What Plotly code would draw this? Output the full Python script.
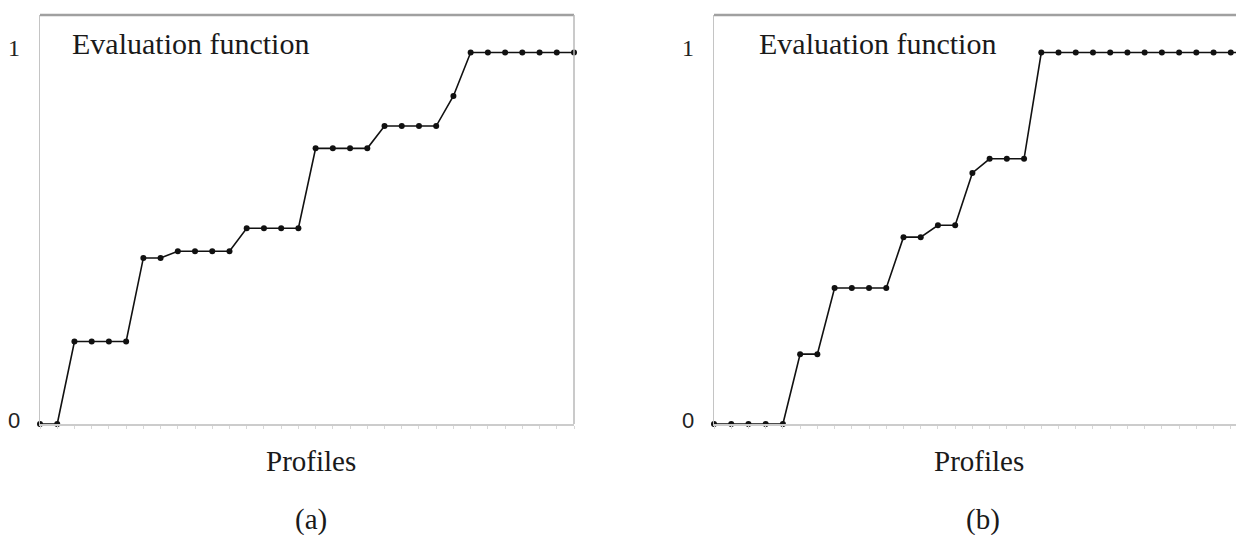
import plotly.graph_objects as go

# ---------------- data ----------------
profiles_a = list(range(32))
eval_a = [0, 0, 0.222, 0.222, 0.222, 0.222, 0.447, 0.447, 0.465, 0.465, 0.465, 0.465,
          0.527, 0.527, 0.527, 0.527, 0.742, 0.742, 0.742, 0.742, 0.802, 0.802, 0.802, 0.802,
          0.883, 1, 1, 1, 1, 1, 1, 1]
profiles_b = list(range(32))
eval_b = [0, 0, 0, 0, 0, 0.188, 0.188, 0.366, 0.366, 0.366, 0.366, 0.503, 0.503,
          0.535, 0.535, 0.676, 0.714, 0.714, 0.714, 1, 1, 1, 1, 1, 1, 1, 1, 1, 1, 1, 1, 1]
y_tickvals = [0, 1]
y_ticktext = ["0", "1"]
y_tickfonts = ["Liberation Sans, Arial, sans-serif", "Liberation Serif, Times New Roman, serif"]
y_ticksizes = [22, 24]
panel_labels = ["(a)", "(b)"]
x_title = "Profiles"
inner_title = "Evaluation function"

# the page has an 8px body margin: figure fills the window from (8, 8)
OFF = 8
W, H = 1244 - OFF, 535 - OFF
SERIF = "Liberation Serif, Times New Roman, serif"


def px(X):
    return (X - OFF) / W


def py(Y):
    return 1 - (Y - OFF) / H


fig = go.Figure()
for i, (xs, ys) in enumerate([(profiles_a, eval_a), (profiles_b, eval_b)]):
    suffix = "" if i == 0 else str(i + 1)
    fig.add_trace(go.Scatter(
        x=xs, y=ys, mode="lines+markers",
        line=dict(color="#111111", width=1.6),
        marker=dict(color="#111111", size=6),
        cliponaxis=False, showlegend=False,
        xaxis="x" + suffix, yaxis="y" + suffix,
    ))

ydom = [py(424), py(15)]
yr = [0, 1.101]
xdom_a = [px(40), px(574)]
xdom_b = [px(714), 1.0]
step = 534 / 31
xr_a = [0, 31]
xr_b = [0, (1244 - 714) / step]

common_x = dict(showgrid=False, zeroline=False, showline=True, linecolor="#cccccc",
                linewidth=1.5, ticks="outside", ticklen=3, tickcolor="#d8d8d8",
                tickmode="linear", tick0=0, dtick=1, showticklabels=False, fixedrange=True)
common_y = dict(showgrid=False, zeroline=False, showline=True, linecolor="#c4c4c4",
                linewidth=1, ticks="", tickvals=y_tickvals, showticklabels=False,
                domain=ydom, range=yr, fixedrange=True)

fig.update_layout(
    width=W, height=H,
    margin=dict(l=0, r=0, t=0, b=0),
    paper_bgcolor="white", plot_bgcolor="white",
    xaxis=dict(domain=xdom_a, range=xr_a, anchor="y", **common_x),
    yaxis=dict(anchor="x", **common_y),
    xaxis2=dict(domain=xdom_b, range=xr_b, anchor="y2", **common_x),
    yaxis2=dict(anchor="x2", **common_y),
)

# frame borders (top, and right for panel a)
for xr_ref, yr_ref, right in [("x domain", "y domain", True), ("x2 domain", "y2 domain", False)]:
    fig.add_shape(type="line", xref=xr_ref, yref=yr_ref, x0=0, x1=1, y0=1, y1=1,
                  line=dict(color="#a0a0a0", width=2.5))
    if right:
        fig.add_shape(type="line", xref=xr_ref, yref=yr_ref, x0=1, x1=1, y0=0, y1=1,
                      line=dict(color="#b8b8b8", width=1.5))

# y tick labels (0 and 1), placed on each panel's y axis
for xd, yref in [("x domain", "y"), ("x2 domain", "y2")]:
    for v, t, f, sz in zip(y_tickvals, y_ticktext, y_tickfonts, y_ticksizes):
        fig.add_annotation(x=0, y=v, xref=xd, yref=yref, text=t, showarrow=False,
                           xanchor="right", yanchor="middle", xshift=-18,
                           yshift=5 if v == 1 else 4,
                           font=dict(family=f, size=sz, color="#222222"))

# texts
for i, lbl in enumerate(panel_labels):
    left_px = 70 if i == 0 else 757
    fig.add_annotation(x=px(left_px), y=py(43), xref="paper", yref="paper",
                       text=inner_title, showarrow=False, xanchor="left", yanchor="middle",
                       font=dict(family=SERIF, size=30, color="#1a1a1a"))
    cx = 311 if i == 0 else 979
    fig.add_annotation(x=px(cx), y=py(461), xref="paper", yref="paper",
                       text=x_title, showarrow=False, xanchor="center", yanchor="middle",
                       font=dict(family=SERIF, size=29, color="#1a1a1a"))
    cx2 = 311 if i == 0 else 983
    fig.add_annotation(x=px(cx2), y=py(519), xref="paper", yref="paper",
                       text=lbl, showarrow=False, xanchor="center", yanchor="middle",
                       font=dict(family=SERIF, size=29, color="#1a1a1a"))

fig.write_html("out.html")
